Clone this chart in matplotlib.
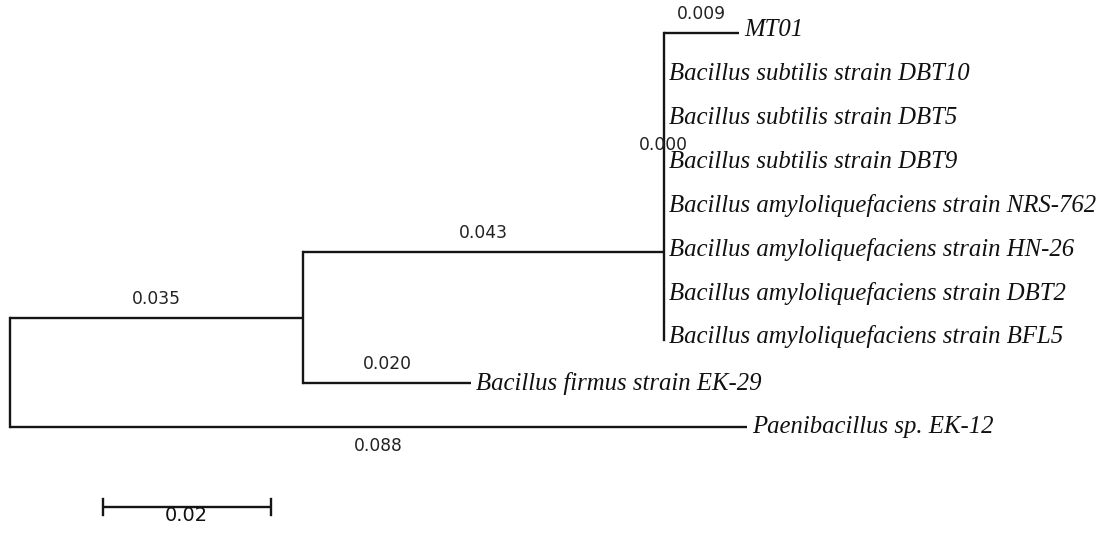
import matplotlib
matplotlib.use("Agg")
import matplotlib.pyplot as plt

# tree: ((clade, firmus), paeni) with branch lengths (substitutions/site)
clade_taxa = [
    "MT01",
    "Bacillus subtilis strain DBT10",
    "Bacillus subtilis strain DBT5",
    "Bacillus subtilis strain DBT9",
    "Bacillus amyloliquefaciens strain NRS-762",
    "Bacillus amyloliquefaciens strain HN-26",
    "Bacillus amyloliquefaciens strain DBT2",
    "Bacillus amyloliquefaciens strain BFL5",
]
clade_lengths = [0.009, 0.000, 0.000, 0.000, 0.000, 0.000, 0.000, 0.000]
clade_stem = 0.043
inner_stem = 0.035
firmus_name = "Bacillus firmus strain EK-29"
firmus_len = 0.020
paeni_name = "Paenibacillus sp. EK-12"
paeni_len = 0.088
scale_len = 0.02

# pixel geometry of the layout
PX_PER_UNIT = 8380
ROOT_PX = 10
ROW0_PX = 33
ROW_PX = 43.8
W, H = 1110, 538

fig = plt.figure(figsize=(W / 100, H / 100), dpi=100)
ax = fig.add_axes([0, 0, 1, 1])
ax.set_xlim(-ROOT_PX / PX_PER_UNIT, (W - ROOT_PX) / PX_PER_UNIT)
ax.set_ylim((H - ROW0_PX) / ROW_PX, -ROW0_PX / ROW_PX)
ax.axis("off")

lw = 1.7
col = "#151515"
num_font = dict(family="DejaVu Sans", fontsize=12.3, color="#222222")
taxon_font = dict(family="Liberation Serif", style="italic", fontsize=17.8, color="#111111")
dx = 5 / PX_PER_UNIT   # gap between tip and taxon name
dy = 19 / ROW_PX       # branch label offset above a branch


def hline(x0, x1, y):
    ax.plot([x0, x1], [y, y], color=col, lw=lw, solid_capstyle="butt")


def vline(x, y0, y1):
    ax.plot([x, x], [y0, y1], color=col, lw=lw, solid_capstyle="projecting")


n_clade = len(clade_taxa)
firmus_y = n_clade
paeni_y = n_clade + 1
clade_y = 5.0
node_a_y = (clade_y + firmus_y) / 2

# root
root_x = 0.0
vline(root_x, node_a_y, paeni_y)
hline(root_x, root_x + paeni_len, paeni_y)
ax.text(root_x + paeni_len / 2, paeni_y + dy, f"{paeni_len:.3f}", ha="center", va="center", **num_font)
ax.text(root_x + paeni_len + dx, paeni_y, paeni_name, ha="left", va="center", **taxon_font)

# node A
a_x = root_x + inner_stem
hline(root_x, a_x, node_a_y)
ax.text((root_x + a_x) / 2, node_a_y - dy, f"{inner_stem:.3f}", ha="center", va="center", **num_font)
vline(a_x, clade_y, firmus_y)

hline(a_x, a_x + firmus_len, firmus_y)
ax.text(a_x + firmus_len / 2, firmus_y - dy, f"{firmus_len:.3f}", ha="center", va="center", **num_font)
ax.text(a_x + firmus_len + dx, firmus_y, firmus_name, ha="left", va="center", **taxon_font)

# clade node
b_x = a_x + clade_stem
hline(a_x, b_x, clade_y)
ax.text((a_x + b_x) / 2, clade_y - dy, f"{clade_stem:.3f}", ha="center", va="center", **num_font)
vline(b_x, 0, n_clade - 1)
ax.text(b_x, 2.56, "0.000", ha="center", va="center", **num_font)

for i, (name, bl) in enumerate(zip(clade_taxa, clade_lengths)):
    if bl > 0:
        hline(b_x, b_x + bl, i)
        ax.text(b_x + bl / 2, i - dy, f"{bl:.3f}", ha="center", va="center", **num_font)
    ax.text(b_x + bl + dx, i - 0.06, name, ha="left", va="center", **taxon_font)

# scale bar
sb_x = (103 - ROOT_PX) / PX_PER_UNIT
sb_y = (507 - ROW0_PX) / ROW_PX
tick = 8 / ROW_PX
hline(sb_x, sb_x + scale_len, sb_y)
vline(sb_x, sb_y - tick, sb_y + tick)
vline(sb_x + scale_len, sb_y - tick, sb_y + tick)
ax.text(sb_x + scale_len / 2, sb_y - 0.02, f"{scale_len:.2f}", ha="center", va="top",
        family="DejaVu Sans Condensed", fontsize=14, color="#111111")

fig.savefig("out.png", dpi=100, facecolor="white")
